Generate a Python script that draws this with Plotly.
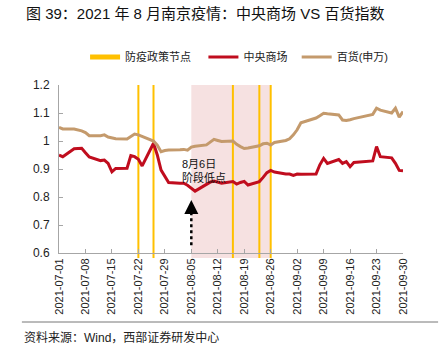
import plotly.graph_objects as go

dates = [
    "2021-07-01", "2021-07-02", "2021-07-05", "2021-07-06", "2021-07-07", "2021-07-08", "2021-07-09",
    "2021-07-12", "2021-07-13", "2021-07-14", "2021-07-15", "2021-07-16",
    "2021-07-19", "2021-07-20", "2021-07-21", "2021-07-22", "2021-07-23",
    "2021-07-26", "2021-07-27", "2021-07-28", "2021-07-29", "2021-07-30",
    "2021-08-02", "2021-08-03", "2021-08-04", "2021-08-05", "2021-08-06",
    "2021-08-09", "2021-08-10", "2021-08-11", "2021-08-12", "2021-08-13",
    "2021-08-16", "2021-08-17", "2021-08-18", "2021-08-19", "2021-08-20",
    "2021-08-23", "2021-08-24", "2021-08-25", "2021-08-26", "2021-08-27",
    "2021-08-30", "2021-08-31", "2021-09-01", "2021-09-02", "2021-09-03",
    "2021-09-06", "2021-09-07", "2021-09-08", "2021-09-09", "2021-09-10",
    "2021-09-13", "2021-09-14", "2021-09-15", "2021-09-16", "2021-09-17",
    "2021-09-22", "2021-09-23", "2021-09-24",
    "2021-09-27", "2021-09-28", "2021-09-29", "2021-09-30",
]

zhongyang = [
    0.950, 0.944, 0.972, 0.974, 0.974, 0.958, 0.943,
    0.930, 0.932, 0.920, 0.890, 0.902,
    0.903, 0.948, 0.944, 0.935, 0.911,
    0.992, 0.950, 0.896, 0.875, 0.852,
    0.849, 0.849, 0.842, 0.832, 0.821,
    0.845, 0.853, 0.857, 0.852, 0.849,
    0.855, 0.846, 0.852, 0.856, 0.843,
    0.855, 0.870, 0.887, 0.895, 0.889,
    0.882, 0.882, 0.877, 0.882, 0.881,
    0.882, 0.882, 0.915, 0.938, 0.920,
    0.934, 0.920, 0.926, 0.908, 0.923,
    0.929, 0.980, 0.944,
    0.940, 0.920, 0.895, 0.894,
]

baihuo = [
    1.049, 1.043, 1.043, 1.040, 1.036, 1.030, 1.019,
    1.019, 1.022, 1.014, 1.010, 1.008,
    1.007, 1.015, 1.025, 1.022, 1.017,
    1.000, 0.985, 0.962, 0.966, 0.968,
    0.969, 0.970, 0.967, 0.978, 0.981,
    0.986, 0.996, 1.006, 1.002, 0.998,
    1.000, 0.988, 0.980, 0.973, 0.975,
    0.983, 0.990, 0.992, 0.986, 0.995,
    1.002, 1.008, 1.022, 1.040, 1.065,
    1.078, 1.082, 1.090, 1.099, 1.097,
    1.093, 1.075, 1.073, 1.076, 1.080,
    1.095, 1.117, 1.110,
    1.100, 1.117, 1.085, 1.105,
]

policy_dates = ["2021-07-22", "2021-07-26", "2021-08-16", "2021-08-23", "2021-08-26"]
shade_range = ["2021-08-05", "2021-08-26"]
low_date = "2021-08-05"

xtick_vals = ["2021-07-01", "2021-07-08", "2021-07-15", "2021-07-22", "2021-07-29",
              "2021-08-05", "2021-08-12", "2021-08-19", "2021-08-26", "2021-09-02",
              "2021-09-09", "2021-09-16", "2021-09-23", "2021-09-30"]
ytick_vals = [0.6, 0.7, 0.8, 0.9, 1.0, 1.1, 1.2]
ytick_text = ["0.6", "0.7", "0.8", "0.9", "1", "1.1", "1.2"]

YELLOW = "#FFC000"
RED = "#C00D1E"
TAN = "#C49A6C"
CJK = "Liberation Sans, Noto Sans CJK SC"


def px_x(p):
    return (p - 59) / 343


def px_y(p):
    return (253 - p) / 168


fig = go.Figure()

fig.add_trace(go.Scatter(x=[None], y=[None], mode="lines", name="防疫政策节点",
                         line=dict(color=YELLOW, width=5), legend="legend"))
fig.add_trace(go.Scatter(x=dates, y=zhongyang, mode="lines", name="中央商场",
                         line=dict(color=RED, width=3), legend="legend2"))
fig.add_trace(go.Scatter(x=dates, y=baihuo, mode="lines", name="百货(申万)",
                         line=dict(color=TAN, width=3), legend="legend3"))

shapes = [
    dict(type="rect", xref="x", yref="paper", x0=shade_range[0], x1=shade_range[1],
         y0=-0.03, y1=1.0, fillcolor="#F6E1E1", line=dict(width=0), layer="below"),
]
for d in policy_dates:
    shapes.append(dict(type="line", xref="x", yref="paper", x0=d, x1=d, y0=-0.03, y1=1.0,
                       line=dict(color=YELLOW, width=2), layer="below"))
# dotted arrow shaft
shapes.append(dict(type="line", xref="x", yref="y", x0=low_date, x1=low_date, y0=0.628, y1=0.77,
                   line=dict(color="black", width=2.5, dash="dot")))
# separator line under the chart
shapes.append(dict(type="line", xref="paper", yref="paper",
                   x0=px_x(22), x1=px_x(437), y0=px_y(322), y1=px_y(322),
                   line=dict(color="#777777", width=1)))

annotations = [
    dict(x=low_date, y=0.789, xref="x", yref="y", text="", showarrow=True,
         arrowhead=2, arrowsize=1.4, arrowwidth=2, arrowcolor="black", ax=0, ay=8),
    dict(x="2021-08-02", y=0.893, xref="x", yref="y", text="8月6日<br>阶段低点",
         showarrow=False, xanchor="left", yanchor="middle", align="left",
         font=dict(family=CJK, size=11, color="#111111")),
    dict(x=px_x(24), y=px_y(13), xref="paper", yref="paper",
         text="图 39：2021 年 8 月南京疫情：中央商场 VS 百货指数", showarrow=False,
         xanchor="left", yanchor="middle", font=dict(family=CJK, size=15, color="#111111")),
    dict(x=px_x(22), y=px_y(337), xref="paper", yref="paper",
         text="资料来源：Wind，西部证券研发中心", showarrow=False,
         xanchor="left", yanchor="middle", font=dict(family=CJK, size=12, color="#222222")),
]

leg_common = dict(orientation="h", yanchor="middle", xanchor="left",
                  font=dict(family=CJK, size=11, color="#222222"),
                  bgcolor="rgba(0,0,0,0)", itemwidth=30)

fig.update_layout(
    width=444, height=350,
    margin=dict(l=59, r=41, t=85, b=97),
    paper_bgcolor="white", plot_bgcolor="white",
    font=dict(family=CJK, color="#222222"),
    shapes=shapes, annotations=annotations,
    showlegend=True,
    legend=dict(x=px_x(85), y=px_y(57), **leg_common),
    legend2=dict(x=px_x(203), y=px_y(57), **leg_common),
    legend3=dict(x=px_x(296), y=px_y(57), **leg_common),
    xaxis=dict(type="date", range=["2021-07-01", "2021-09-30"], tickvals=xtick_vals,
               tickformat="%Y-%m-%d", tickangle=-90, showgrid=False, zeroline=False,
               showline=True, linecolor="#A6A6A6", linewidth=1, ticks="inside", ticklen=4,
               tickcolor="#A6A6A6", tickfont=dict(family="Liberation Sans", size=11, color="#222222")),
    yaxis=dict(range=[0.6, 1.2], tickvals=ytick_vals, ticktext=ytick_text, showgrid=False,
               zeroline=False, showline=True, linecolor="#A6A6A6", linewidth=1, ticks="inside",
               ticklen=4, tickcolor="#A6A6A6", ticklabelstandoff=6,
               tickfont=dict(family="Liberation Sans", size=12, color="#222222")),
)

fig.write_html("out.html")
